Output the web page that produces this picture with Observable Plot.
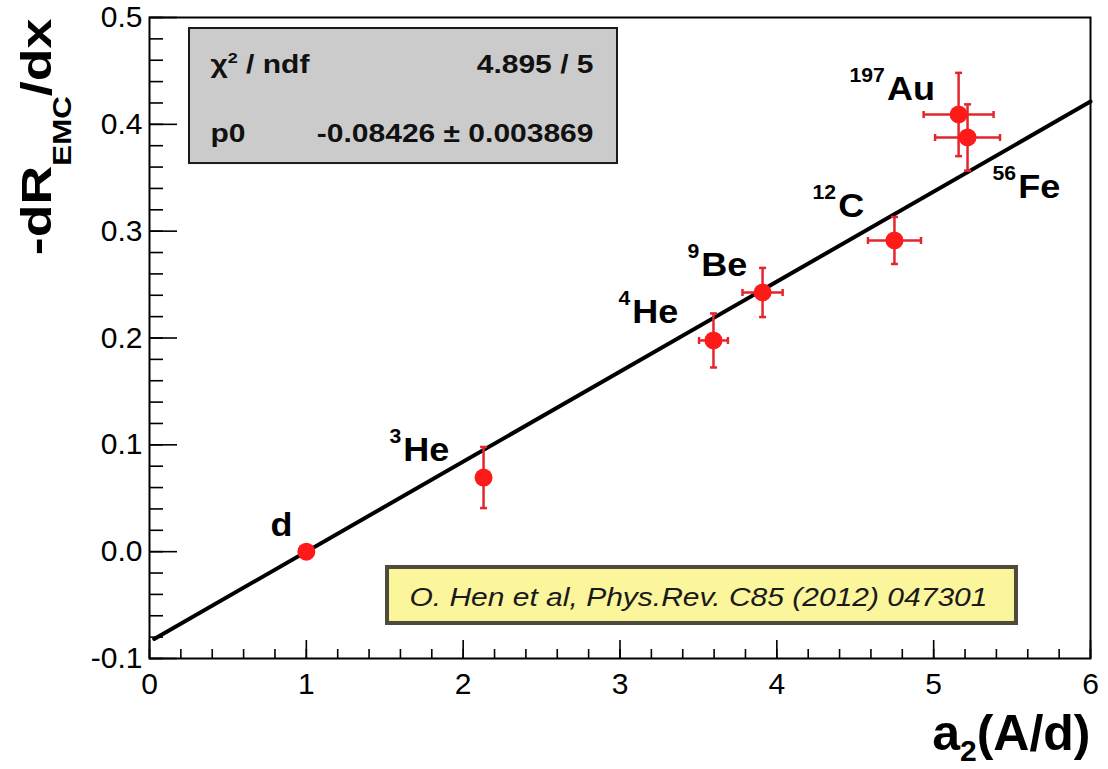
<!DOCTYPE html>
<html>
<head>
<meta charset="utf-8">
<script src="https://cdn.jsdelivr.net/npm/d3@7"></script>
<script src="https://cdn.jsdelivr.net/npm/@observablehq/plot@0.6"></script>
<style>
  html, body { margin: 0; padding: 0; background: #fff; }
  #chart { width: 1108px; height: 769px; overflow: hidden; }
  svg { font-family: "Liberation Sans", Arial, Helvetica, sans-serif; }
</style>
</head>
<body>
<div id="chart"></div>
<script>
// ---- data ----
const nuclides = ["d", "^{3}He", "^{4}He", "^{9}Be", "^{12}C", "^{197}Au", "^{56}Fe"];
const a2       = [1.00, 2.13, 3.596, 3.909, 4.750, 5.159, 5.216];
const a2Err    = [0, 0, 0.092, 0.128, 0.169, 0.223, 0.207];
const slope    = [0.000, 0.0694, 0.1977, 0.2426, 0.2913, 0.4092, 0.3877];
const slopeErr = [0, 0.0286, 0.0253, 0.023, 0.022, 0.039, 0.031];
// label anchor (start of text, baseline) in data units
const labelX   = [0.7715, 1.530, 2.990, 3.430, 4.228, 4.463, 5.375];
const labelY   = [0.0151, 0.0853, 0.2136, 0.2576, 0.3128, 0.4232, 0.3315];

// fit result: f(a2) = p0 * (1 - a2)
const p0 = -0.08426, p0Err = 0.003869, chi2 = 4.895, ndf = 5;
const fitRange = [0.03, 6];

const xTicks = [0, 1, 2, 3, 4, 5, 6];
const yTicks = [-0.1, 0, 0.1, 0.2, 0.3, 0.4, 0.5];
const xMinor = d3.range(0, 6.0001, 0.2);
const yMinor = d3.range(-0.1, 0.5001, 0.02);

const citation = "O. Hen et al, Phys.Rev. C85 (2012) 047301";
const xTitle = "a_{2}(A/d)";
const yTitle = "-dR_{EMC}/dx";

// annotation placement (data units)
const statBox = {x1: 0.255, x2: 2.984, y1: 0.3633, y2: 0.4897, left: 0.389, right: 2.831, row1: 0.4485, row2: 0.3839};
const citeBox = {x1: 1.5176, x2: 5.528, y1: -0.0672, y2: -0.0148, cx: 3.50, cy: -0.0504};
const xTitlePos = {x: 6.0, y: -0.186};
const yTitlePos = {x: -0.625, y: 0.499};

// ---- build ----
const points = nuclides.map((n, i) => ({
  name: n, x: a2[i], ex: a2Err[i], y: slope[i], ey: slopeErr[i], lx: labelX[i], ly: labelY[i]
}));
const fit = fitRange.map(x => ({x, y: p0 * (1 - x)}));

const barColor = "#e3262e";
const hCap = {draw(ctx, size) { const r = Math.sqrt(size / Math.PI); ctx.moveTo(-r, 0); ctx.lineTo(r, 0); }};
const vCap = {draw(ctx, size) { const r = Math.sqrt(size / Math.PI); ctx.moveTo(0, -r); ctx.lineTo(0, r); }};

const yErrPts = points.filter(d => d.ey > 0);
const xErrPts = points.filter(d => d.ex > 0);
const yCaps = yErrPts.flatMap(d => [{x: d.x, y: d.y - d.ey}, {x: d.x, y: d.y + d.ey}]);
const xCaps = xErrPts.flatMap(d => [{x: d.x - d.ex, y: d.y}, {x: d.x + d.ex, y: d.y}]);

const statRows = [
  {l: "χ^{2} / ndf", r: `${chi2} / ${ndf}`, y: statBox.row1},
  {l: "p0", r: `${p0} ± ${p0Err}`, y: statBox.row2}
];

const chart = Plot.plot({
  width: 1108,
  height: 769,
  marginLeft: 149,
  marginRight: 18,
  marginTop: 17,
  marginBottom: 111,
  x: {domain: [0, 6]},
  y: {domain: [-0.1, 0.5]},
  style: {background: "white", color: "black", overflow: "visible",
          fontFamily: "'Liberation Sans', Arial, Helvetica, sans-serif"},
  marks: [
    // axes: labels
    Plot.axisX({ticks: xTicks, tickSize: 0, tickPadding: 14, fontSize: 30, label: null, tickFormat: d => String(d)}),
    Plot.axisY({ticks: yTicks, tickSize: 0, tickPadding: 7, fontSize: 30, label: null, tickFormat: d => d.toFixed(1)}),
    // axes: inward ticks
    Plot.axisX({ticks: xTicks, tickSize: -18, text: null, label: null, strokeWidth: 1.6}),
    Plot.axisX({ticks: xMinor, tickSize: -9, text: null, label: null, strokeWidth: 1.6}),
    Plot.axisY({ticks: yTicks, tickSize: -28, text: null, label: null, strokeWidth: 1.6}),
    Plot.axisY({ticks: yMinor, tickSize: -14, text: null, label: null, strokeWidth: 1.6}),
    Plot.frame({stroke: "black", strokeWidth: 2}),

    // stat box
    Plot.rect([statBox], {x1: "x1", x2: "x2", y1: "y1", y2: "y2", fill: "#cbcbcb", stroke: "#1a1a1a", strokeWidth: 2}),
    Plot.text(statRows, {x: () => statBox.left, y: "y", text: "l", textAnchor: "start", lineAnchor: "bottom",
      fontSize: 25, fontWeight: "bold", fill: "#111"}),
    Plot.text(statRows, {x: () => statBox.right, y: "y", text: "r", textAnchor: "end", lineAnchor: "bottom",
      fontSize: 25, fontWeight: "bold", fill: "#111"}),

    // citation box
    Plot.rect([citeBox], {x1: "x1", x2: "x2", y1: "y1", y2: "y2", fill: "#4d4b3a", dx: 2, dy: 2}),
    Plot.rect([citeBox], {x1: "x1", x2: "x2", y1: "y1", y2: "y2", fill: "#fbf59b", stroke: "#4d4b3a", strokeWidth: 4}),
    Plot.text([citeBox], {x: "cx", y: "cy", text: () => citation, textAnchor: "middle", lineAnchor: "bottom",
      fontSize: 25, fontStyle: "italic", fill: "#1a1a1a"}),

    // fit line
    Plot.line(fit, {x: "x", y: "y", stroke: "black", strokeWidth: 4}),

    // error bars
    Plot.ruleX(yErrPts, {x: "x", y1: d => d.y - d.ey, y2: d => d.y + d.ey, stroke: barColor, strokeWidth: 2.5}),
    Plot.ruleY(xErrPts, {y: "y", x1: d => d.x - d.ex, x2: d => d.x + d.ex, stroke: barColor, strokeWidth: 2.5}),
    Plot.dot(yCaps, {x: "x", y: "y", r: 3.5, symbol: hCap, stroke: barColor, strokeWidth: 2.5, fill: "none"}),
    Plot.dot(xCaps, {x: "x", y: "y", r: 3.5, symbol: vCap, stroke: barColor, strokeWidth: 2.5, fill: "none"}),

    // markers
    Plot.dot(points, {x: "x", y: "y", r: 9, fill: "#ff1a1a", stroke: null}),

    // nuclide labels
    Plot.text(points, {x: "lx", y: "ly", text: "name", textAnchor: "start", lineAnchor: "bottom",
      fontSize: 34, fontWeight: "bold", fill: "black"}),

    // axis titles
    Plot.text([xTitlePos], {x: "x", y: "y", text: () => xTitle, textAnchor: "end", lineAnchor: "bottom",
      fontSize: 50, fontWeight: "bold", fill: "black"}),
    Plot.text([yTitlePos], {x: "x", y: "y", text: () => yTitle, textAnchor: "end", lineAnchor: "bottom",
      rotate: -90, fontSize: 43, fontWeight: "bold", fill: "black"})
  ]
});

// ---- rich text (super/subscripts) and ROOT-like horizontal stretch ----
const NS = "http://www.w3.org/2000/svg";
const richCfg = new Map();
nuclides.forEach(n => richCfg.set(n, {supSize: 20, rise: 18, gap: 2, sx: 1.06}));
statRows.forEach(r => { richCfg.set(r.l, {supSize: 15, rise: 10, sx: 1.2}); richCfg.set(r.r, {sx: 1.2}); });
richCfg.set(citation, {sx: 1.2});
richCfg.set(xTitle, {subSize: 30, drop: 11, sx: 1});
richCfg.set(yTitle, {subSize: 25, drop: 20, sx: 1.25});

function richify(el, cfg) {
  const s = el.textContent;
  if (/[\^_]\{/.test(s)) {
    while (el.firstChild) el.removeChild(el.firstChild);
    const re = /([\^_])\{([^}]*)\}|([^\^_]+)/g;
    let m, cur = 0, afterScript = false;
    while ((m = re.exec(s))) {
      const t = document.createElementNS(NS, "tspan");
      let target;
      if (m[1] === "^") { t.textContent = m[2]; t.setAttribute("font-size", cfg.supSize); target = -cfg.rise; }
      else if (m[1] === "_") { t.textContent = m[2]; t.setAttribute("font-size", cfg.subSize); target = cfg.drop; }
      else { t.textContent = m[3]; target = 0; if (afterScript && cfg.gap) t.setAttribute("dx", cfg.gap); }
      if (target !== cur) t.setAttribute("dy", target - cur);
      cur = target;
      afterScript = !!m[1];
      el.appendChild(t);
    }
  }
  if (cfg.sx && cfg.sx !== 1) {
    const tr = el.getAttribute("transform") || "";
    el.setAttribute("transform", `${tr} scale(${cfg.sx},1)`);
  }
}
chart.querySelectorAll("text").forEach(el => {
  const cfg = richCfg.get(el.textContent);
  if (cfg) richify(el, cfg);
});

document.getElementById("chart").appendChild(chart);
</script>
</body>
</html>
